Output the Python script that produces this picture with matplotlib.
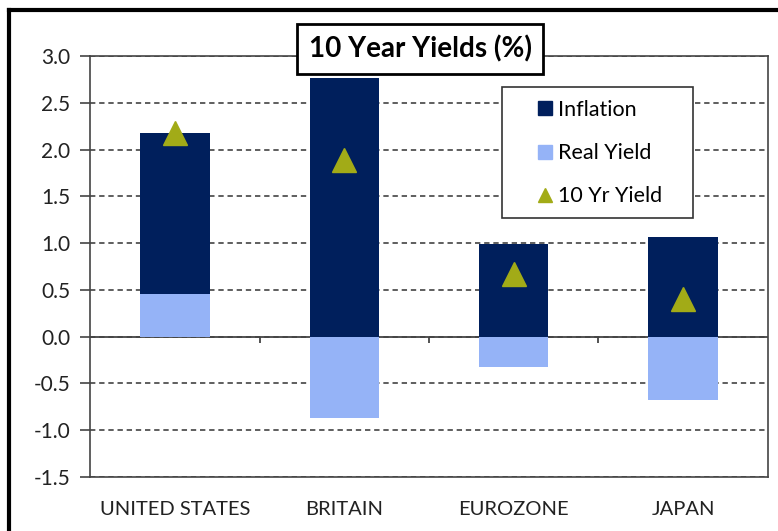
import matplotlib.pyplot as plt
from matplotlib.lines import Line2D
from matplotlib.patches import Rectangle

countries = ["UNITED STATES", "BRITAIN", "EUROZONE", "JAPAN"]
inflation = [1.72, 2.76, 0.99, 1.07]
real_yield = [0.46, -0.87, -0.32, -0.675]
ten_yr = [2.18, 1.89, 0.67, 0.40]

navy = "#001f5c"
light = "#95b3f7"
olive = "#a2ab17"

plt.rcParams['font.family'] = ['Lato', 'DejaVu Sans']

fig = plt.figure(figsize=(7.78, 5.31), dpi=100)
ax = fig.add_axes([0.1157, 0.1017, 0.8714, 0.7928])

x = list(range(len(countries)))
# positive values stack upward, negatives go down from zero (excel style)
inf_bottom = [r if r > 0 else 0 for r in real_yield]
ax.bar(x, real_yield, width=0.41, color=light, zorder=2)
ax.bar(x, inflation, bottom=inf_bottom, width=0.41, color=navy, zorder=2)
ax.plot(x, ten_yr, linestyle='none', marker='^', markersize=17, color=olive, zorder=3)

ax.set_xlim(-0.5, 3.5)
ax.set_ylim(-1.5, 3.0)
ax.set_yticks([-1.5, -1.0, -0.5, 0.0, 0.5, 1.0, 1.5, 2.0, 2.5, 3.0])
ax.set_yticklabels(["%.1f" % v for v in ax.get_yticks()], fontsize=15, color="#222222")
ax.tick_params(axis='y', direction='out', length=7, width=1.2, color="#444444", pad=7)
ax.set_xticks(x)
ax.set_xticklabels(countries, fontsize=14.5, color="#222222")
ax.tick_params(axis='x', length=0, pad=17)

ax.yaxis.grid(True, linestyle=(0, (3.5, 2.5)), color="#333333", linewidth=1.1, zorder=0)
ax.set_axisbelow(True)
ax.axhline(0, color="#444444", linewidth=1.3, zorder=1)
ax.vlines([0.5, 1.5, 2.5], -0.07, 0, color="#444444", linewidth=1.3)

for s in ax.spines.values():
    s.set_color("#444444")
    s.set_linewidth(1.2)

# legend box drawn separately so the padding can match the excel one
ax.add_patch(Rectangle((0.6077, 0.616), 0.2817, 0.3104, transform=ax.transAxes,
                       facecolor='white', edgecolor="#333333", linewidth=1.2, zorder=4))
handles = [
    Line2D([], [], linestyle='none', marker='s', markersize=9.5, color=navy),
    Line2D([], [], linestyle='none', marker='s', markersize=9.5, color=light),
    Line2D([], [], linestyle='none', marker='^', markersize=10, color=olive),
]
leg = ax.legend(handles, ["Inflation", "Real Yield", "10 Yr Yield"],
                loc='upper left', bbox_to_anchor=(0.661, 0.896), fontsize=15.5,
                frameon=False, labelspacing=1.08,
                handletextpad=0.33, handlelength=0.6, borderpad=0,
                borderaxespad=0)
leg.set_zorder(5)

ax.text(0.487, 1.017, "10 Year Yields (%)", transform=ax.transAxes,
        ha='center', va='center', fontsize=20, fontweight='bold',
        bbox=dict(boxstyle='square,pad=0.42', facecolor='white',
                  edgecolor='black', linewidth=2), zorder=5)

# outer chart frame (cropped screenshot: only left and top visible)
fig.add_artist(Line2D([9 / 778, 9 / 778], [0, 1 - 10 / 531], color='black', linewidth=3))
fig.add_artist(Line2D([9 / 778, 1], [1 - 10 / 531, 1 - 10 / 531], color='black', linewidth=3))

fig.savefig("out.png", dpi=100)
